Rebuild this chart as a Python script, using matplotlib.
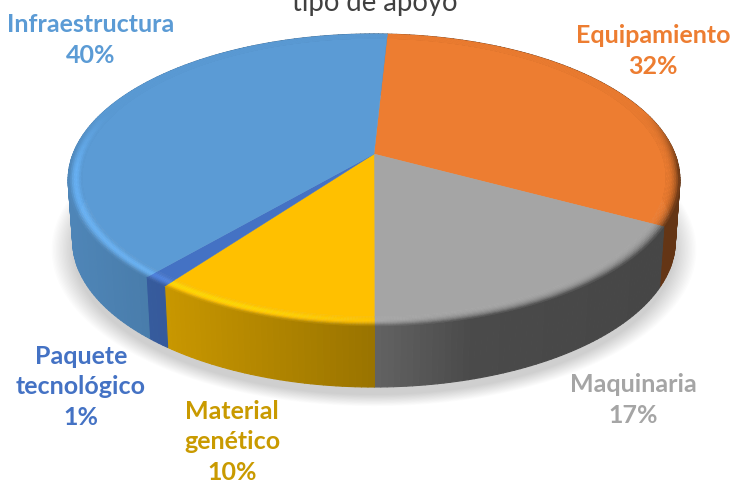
import numpy as np
import matplotlib
matplotlib.use("Agg")
import matplotlib.pyplot as plt
from matplotlib.collections import PolyCollection
from matplotlib.colors import to_rgb

categories = ["Equipamiento", "Maquinaria", "Material\ngenético", "Paquete\ntecnológico", "Infraestructura"]
shares = [32, 17.2, 10.2, 1.2, 39.5]
share_labels = ["32%", "17%", "10%", "1%", "40%"]
colors = ["#ED7D31", "#A5A5A5", "#FFC000", "#4472C4", "#5B9BD5"]
label_colors = ["#ED7D31", "#A5A5A5", "#C99A00", "#4472C4", "#5B9BD5"]
label_xy = [(653, 51), (633, 400), (232, 442), (81, 387), (91, 40)]
title = "tipo de apoyo"

START = 3.0
CX, CY = 374.0, 155.0
P, A, D = 0.178, 141.4, 301.0
DEPTH, XS = 61.0, 0.985


def proj(theta, r=1.0):
    u, v = r * np.sin(theta), r * np.cos(theta)
    den = 1 + P * v
    return CX + D * u / den, CY - A * v / den


def side_f(x):
    return np.interp(x, [70, 150, 374, 470, 680], [0.86, 0.80, 0.60, 0.45, 0.42])


def high(x):
    return np.interp(x, [70, 250, 450, 680], [0.13, 0.12, 0.0, 0.0])


def shade(rgb, f):
    return tuple(np.clip(np.array(rgb) * f, 0, 1))


fig = plt.figure(figsize=(7.32, 4.81), dpi=100, facecolor="white")
ax = fig.add_axes([0, 0, 1, 1])
ax.set_xlim(0, 732)
ax.set_ylim(481, 0)
ax.axis("off")

# soft shadow
full = np.linspace(0, 2 * np.pi, 361)
fx, fy = proj(full)
for grow in np.linspace(1.07, 1.0, 16):
    ax.fill(CX + (fx - CX) * XS * grow, fy + DEPTH + 8 + (fy - fy.mean()) * (grow - 1),
            color="#000000", alpha=0.012, lw=0, zorder=1)

edges = np.radians(START + np.cumsum([0] + shares) / sum(shares) * 360)
BEVEL = 0.955
for i, col in enumerate(colors):
    rgb = to_rgb(col)
    t0, t1 = edges[i], edges[i + 1]
    n = max(4, int(np.degrees(t1 - t0)))
    th = np.linspace(t0, t1, n + 1)

    # side wall
    polys, cols = [], []
    for a, b in zip(th[:-1], th[1:]):
        xa, ya = proj(a)
        xb, yb = proj(b)
        polys.append([(xa, ya), (xb, yb),
                      (CX + (xb - CX) * XS, yb + DEPTH),
                      (CX + (xa - CX) * XS, ya + DEPTH)])
        cols.append(shade(rgb, side_f((xa + xb) / 2)))
    ax.add_collection(PolyCollection(polys, facecolors=cols, edgecolors=cols, lw=0.8, zorder=2))

    # top face
    tx, ty = proj(th, BEVEL)
    ax.fill(np.r_[CX, tx], np.r_[CY, ty], color=col, lw=0.3, zorder=3)

    # bevel
    polys, cols = [], []
    rs = np.linspace(BEVEL, 1.0, 9)
    fine = np.linspace(t0, t1, 2 * n + 1)
    for a, b in zip(fine[:-1], fine[1:]):
        m = (a + b) / 2
        xm, _ = proj(m)
        v = np.cos(m)
        w = np.clip((0.3 - v) / 0.4, 0, 1)
        for r0, r1 in zip(rs[:-1], rs[1:]):
            s = ((r0 + r1) / 2 - BEVEL) / (1 - BEVEL)
            f = 1 + w * ((side_f(xm) - 1) * s ** 2.5 + high(xm) * np.sin(np.pi * s) ** 2 * 1.3)
            xa0, ya0 = proj(a, r0)
            xb0, yb0 = proj(b, r0)
            xa1, ya1 = proj(a, r1)
            xb1, yb1 = proj(b, r1)
            polys.append([(xa0, ya0), (xb0, yb0), (xb1, yb1), (xa1, ya1)])
            cols.append(shade(rgb, f))
    ax.add_collection(PolyCollection(polys, facecolors=cols, edgecolors=cols, lw=0.3, zorder=4))

ax.text(375, 3, title, ha="center", va="center", fontsize=19.8, color="#404040", family="Lato", zorder=6)
for name, pct, c, (x, y) in zip(categories, share_labels, label_colors, label_xy):
    ax.text(x, y, name + "\n" + pct, ha="center", va="center", fontsize=18, color=c,
            family="Lato", fontweight="bold", linespacing=1.42, zorder=6)

fig.savefig("out.png", dpi=100)
